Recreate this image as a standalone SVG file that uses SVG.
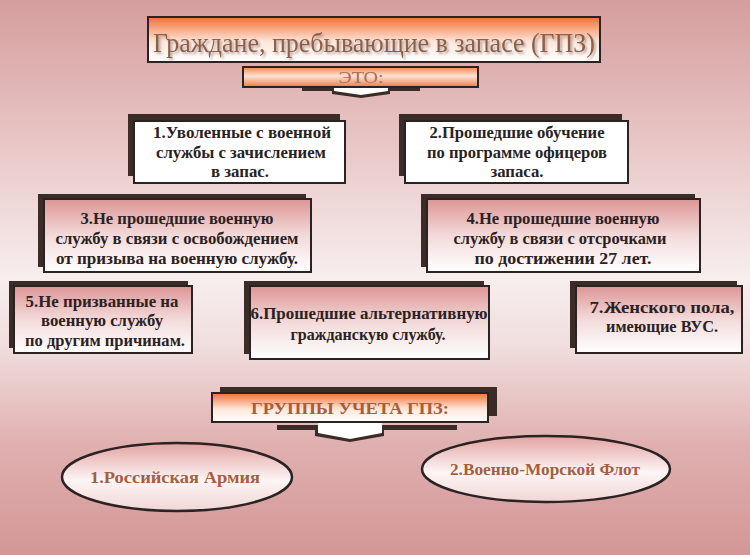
<svg xmlns="http://www.w3.org/2000/svg" width="750" height="555" viewBox="0 0 750 555" font-family="Liberation Serif, DejaVu Serif, serif" text-anchor="middle">
<defs>
<linearGradient id="bg" x1="0" y1="0" x2="0" y2="1">
<stop offset="0" stop-color="#d59d9d"/>
<stop offset="0.22" stop-color="#e6c0c0"/>
<stop offset="0.5" stop-color="#f7eeee"/>
<stop offset="0.62" stop-color="#f1dede"/>
<stop offset="0.8" stop-color="#e0b0b0"/>
<stop offset="1" stop-color="#d49696"/>
</linearGradient>
<linearGradient id="orangeTop" x1="0" y1="0" x2="0" y2="1">
<stop offset="0" stop-color="#f26f35"/>
<stop offset="0.55" stop-color="#fde6da"/>
<stop offset="1" stop-color="#ffffff"/>
</linearGradient>
<linearGradient id="eto" x1="0" y1="0" x2="0" y2="1">
<stop offset="0" stop-color="#f4834c"/>
<stop offset="0.45" stop-color="#fde3d6"/>
<stop offset="1" stop-color="#f3793e"/>
</linearGradient>
<linearGradient id="pinkTop" x1="0" y1="0" x2="0" y2="1">
<stop offset="0" stop-color="#dd9595"/>
<stop offset="0.5" stop-color="#f3dada"/>
<stop offset="1" stop-color="#ffffff"/>
</linearGradient>
<linearGradient id="ell" x1="0" y1="0" x2="0" y2="1">
<stop offset="0" stop-color="#e3a3a2"/>
<stop offset="0.55" stop-color="#fdf5f5"/>
<stop offset="1" stop-color="#f1d6d6"/>
</linearGradient>
<filter id="tshadow" x="-5%" y="-20%" width="110%" height="150%">
<feDropShadow dx="2" dy="2" stdDeviation="1.2" flood-color="#9a8a8a" flood-opacity="0.7"/>
</filter>
</defs>
<style>
.sh{fill:#3b2c27}
.box{stroke:#2b2222;stroke-width:2}
.bt{font-size:16px;font-weight:bold;fill:#2a2222}
.ot{fill:#a65e3c;font-weight:bold}
</style>
<rect x="0" y="0" width="750" height="555" fill="url(#bg)"/>
<g id="connectors"></g>

<g id="title">
<rect x="148" y="17" width="452" height="45" fill="url(#orangeTop)" class="box"/>
<text x="374" y="52" font-size="27" fill="#8e5e42" textLength="442" lengthAdjust="spacingAndGlyphs" filter="url(#tshadow)">Граждане, пребывающие в запасе (ГПЗ)</text>
</g>

<g id="eto">
<polygon class="sh" points="302,88 420,88 420,91 390,91 390,94 361,98 332,94 332,91 302,91"/>
<polygon fill="#ffffff" points="334,85 388,85 388,91 361,95 334,91"/>
<rect x="243" y="67" width="235" height="20" fill="url(#eto)" class="box"/>
<text x="361" y="83" font-size="16" fill="#a87058" textLength="45" lengthAdjust="spacingAndGlyphs">ЭТО:</text>
</g>

<g id="n1">
<rect class="sh" x="128" y="114" width="212" height="62"/>
<rect x="134" y="121" width="211" height="62" fill="#ffffff" class="box"/>
<text class="bt" x="242" y="138" textLength="178" lengthAdjust="spacingAndGlyphs">1.Уволенные с военной</text>
<text class="bt" x="241" y="158" textLength="170" lengthAdjust="spacingAndGlyphs">службы с зачислением</text>
<text class="bt" x="240" y="177" textLength="58" lengthAdjust="spacingAndGlyphs">в запас.</text>
</g>

<g id="n2">
<rect class="sh" x="399" y="114" width="223" height="62"/>
<rect x="405" y="121" width="223" height="62" fill="#ffffff" class="box"/>
<text class="bt" x="517" y="138" textLength="175" lengthAdjust="spacingAndGlyphs">2.Прошедшие обучение</text>
<text class="bt" x="517" y="158" textLength="180" lengthAdjust="spacingAndGlyphs">по программе офицеров</text>
<text class="bt" x="517" y="177" textLength="53" lengthAdjust="spacingAndGlyphs">запаса.</text>
</g>

<g id="n3">
<rect class="sh" x="38" y="194" width="268" height="73"/>
<rect x="44" y="199" width="267" height="73" fill="url(#pinkTop)" class="box"/>
<text class="bt" x="177" y="224" textLength="193" lengthAdjust="spacingAndGlyphs">3.Не прошедшие военную</text>
<text class="bt" x="177" y="244" textLength="243" lengthAdjust="spacingAndGlyphs">службу в связи с освобождением</text>
<text class="bt" x="177" y="264" textLength="242" lengthAdjust="spacingAndGlyphs">от призыва на военную службу.</text>
</g>

<g id="n4">
<rect class="sh" x="421" y="194" width="274" height="73"/>
<rect x="427" y="199" width="273" height="73" fill="url(#pinkTop)" class="box"/>
<text class="bt" x="563" y="224" textLength="193" lengthAdjust="spacingAndGlyphs">4.Не прошедшие военную</text>
<text class="bt" x="560" y="244" textLength="213" lengthAdjust="spacingAndGlyphs">службу в связи с отсрочками</text>
<text class="bt" x="563" y="264" textLength="177" lengthAdjust="spacingAndGlyphs">по достижении 27 лет.</text>
</g>

<g id="n5">
<rect class="sh" x="9" y="281" width="179" height="67"/>
<rect x="14" y="286" width="178" height="67" fill="url(#pinkTop)" class="box"/>
<text class="bt" x="102" y="307" textLength="153" lengthAdjust="spacingAndGlyphs">5.Не призванные на</text>
<text class="bt" x="102" y="326" textLength="122" lengthAdjust="spacingAndGlyphs">военную службу</text>
<text class="bt" x="105" y="346" textLength="160" lengthAdjust="spacingAndGlyphs">по другим причинам.</text>
</g>

<g id="n6">
<rect class="sh" x="244" y="281" width="240" height="73"/>
<rect x="250" y="286" width="239" height="73" fill="url(#pinkTop)" class="box"/>
<text class="bt" x="369" y="319" textLength="237" lengthAdjust="spacingAndGlyphs">6.Прошедшие альтернативную</text>
<text class="bt" x="368" y="340" textLength="155" lengthAdjust="spacingAndGlyphs">гражданскую службу.</text>
</g>

<g id="n7">
<rect class="sh" x="570" y="281" width="167" height="67"/>
<rect x="576" y="286" width="166" height="67" fill="url(#pinkTop)" class="box"/>
<text class="bt" x="662" y="313" textLength="145" lengthAdjust="spacingAndGlyphs">7.Женского пола,</text>
<text class="bt" x="662" y="332" textLength="112" lengthAdjust="spacingAndGlyphs">имеющие ВУС.</text>
</g>

<g id="groups">
<rect class="sh" x="220" y="387" width="277" height="29"/>
<polygon class="sh" points="277,425 457,425 457,430 384,430 384,436 350,442 315,436 315,430 277,430"/>
<polygon fill="#ffffff" points="318,420 382,420 382,433 350,439 318,433"/>
<rect x="212" y="393" width="276" height="29" fill="url(#orangeTop)" class="box"/>
<text class="ot" x="350" y="414" font-size="17" textLength="198" lengthAdjust="spacingAndGlyphs">ГРУППЫ УЧЕТА ГПЗ:</text>
</g>

<g id="army">
<ellipse cx="177" cy="477" rx="115" ry="34" fill="url(#ell)" stroke="#2b2222" stroke-width="2.5"/>
<text class="ot" x="175" y="483" font-size="17" textLength="170" lengthAdjust="spacingAndGlyphs">1.Российская Армия</text>
</g>

<g id="navy">
<ellipse cx="546" cy="469" rx="124" ry="33" fill="url(#ell)" stroke="#2b2222" stroke-width="2.5"/>
<text class="ot" x="545" y="475" font-size="17" textLength="190" lengthAdjust="spacingAndGlyphs">2.Военно-Морской Флот</text>
</g>
</svg>
